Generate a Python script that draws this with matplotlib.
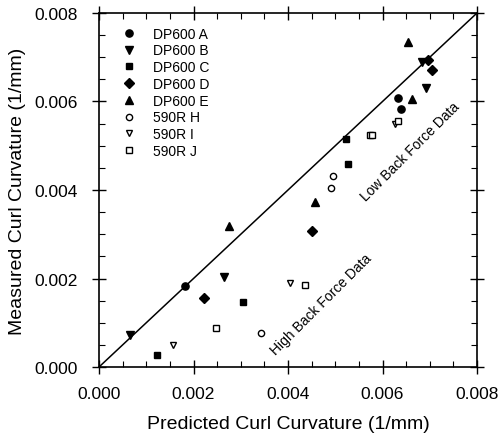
import numpy as np
from matplotlib import pyplot as plt
from matplotlib.ticker import MultipleLocator

plt.rcParams['font.family'] = ['Liberation Sans', 'DejaVu Sans']

# DP600 series (filled markers)
a_x = [0.00182, 0.00632, 0.00639]
a_y = [0.00184, 0.00608, 0.00583]
b_x = [0.00066, 0.00265, 0.00683, 0.00692]
b_y = [0.00072, 0.00203, 0.00690, 0.00630]
c_x = [0.00122, 0.00304, 0.00522, 0.00526]
c_y = [0.00028, 0.00148, 0.00515, 0.00458]
d_x = [0.00222, 0.00450, 0.00697, 0.00704]
d_y = [0.00155, 0.00307, 0.00694, 0.00670]
e_x = [0.00275, 0.00457, 0.00654, 0.00662]
e_y = [0.00318, 0.00372, 0.00734, 0.00606]

# 590R series (open markers)
h_x = [0.00343, 0.00492, 0.00496]
h_y = [0.00076, 0.00405, 0.00431]
i_x = [0.00157, 0.00404, 0.00626]
i_y = [0.00050, 0.00189, 0.00549]
j_x = [0.00248, 0.00436, 0.00574, 0.00578, 0.00632]
j_y = [0.00088, 0.00186, 0.00525, 0.00525, 0.00556]

fig = plt.figure(figsize=(4.99, 4.39), dpi=100)
ax = fig.add_axes([0.1984, 0.1617, 0.7576, 0.8065])

ax.plot([0, 0.008], [0, 0.008], '-', color='black', lw=1.1)

ax.plot(a_x, a_y, 'o', color='black', ms=5.2, label='DP600 A')
ax.plot(b_x, b_y, 'v', color='black', ms=6, label='DP600 B')
ax.plot(c_x, c_y, 's', color='black', ms=5, label='DP600 C')
ax.plot(d_x, d_y, 'D', color='black', ms=4.6, label='DP600 D')
ax.plot(e_x, e_y, '^', color='black', ms=6, label='DP600 E')
ax.plot(h_x, h_y, 'o', mfc='white', mec='black', mew=1, ms=4.5, label='590R H')
ax.plot(i_x, i_y, 'v', mfc='white', mec='black', mew=1, ms=5, label='590R I')
ax.plot(j_x, j_y, 's', mfc='white', mec='black', mew=1, ms=4.3, label='590R J')

ax.text(0.00658, 0.00488, 'Low Back Force Data', rotation=45, fontsize=10,
        ha='center', va='center')
ax.text(0.0047, 0.00142, 'High Back Force Data', rotation=45, fontsize=10,
        ha='center', va='center')

ax.set_xlim(0, 0.008)
ax.set_ylim(0, 0.008)
ax.xaxis.set_major_locator(MultipleLocator(0.002))
ax.yaxis.set_major_locator(MultipleLocator(0.002))
ax.xaxis.set_minor_locator(MultipleLocator(0.0005))
ax.yaxis.set_minor_locator(MultipleLocator(0.0005))
ax.xaxis.set_major_formatter(plt.FormatStrFormatter('%.3f'))
ax.yaxis.set_major_formatter(plt.FormatStrFormatter('%.3f'))
ax.tick_params(which='major', direction='inout', length=10, width=1,
               top=True, right=True, labelsize=12.5)
ax.tick_params(axis='x', which='major', pad=9)
ax.tick_params(axis='y', which='major', pad=10)
ax.tick_params(which='minor', direction='in', length=4, width=0.8,
               top=True, right=True)
for s in ax.spines.values():
    s.set_linewidth(1.2)

ax.set_xlabel('Predicted Curl Curvature (1/mm)', fontsize=14, labelpad=10)
ax.set_ylabel('Measured Curl Curvature (1/mm)', fontsize=14, labelpad=6)

ax.legend(loc='upper left', bbox_to_anchor=(0.03, 0.985), frameon=False,
          fontsize=10, handletextpad=0.95, labelspacing=0.2, borderaxespad=0.2,
          handlelength=1.5)

fig.savefig('out.png', dpi=100)
